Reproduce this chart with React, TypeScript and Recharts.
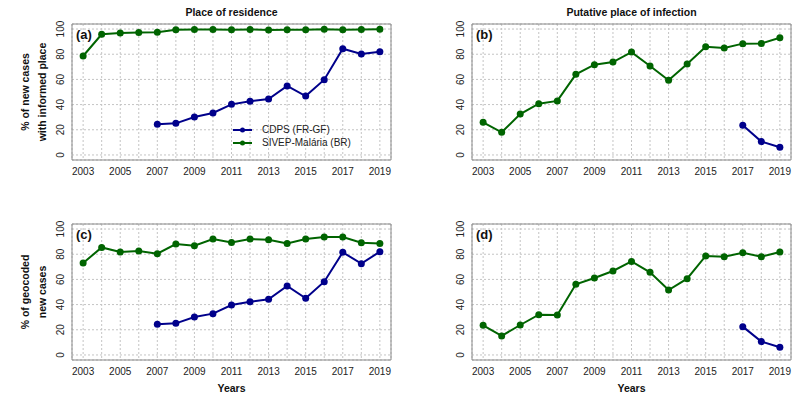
import { LineChart, Line, XAxis, YAxis, CartesianGrid, ReferenceArea, Legend } from 'recharts';

const YEARS = [2003, 2004, 2005, 2006, 2007, 2008, 2009, 2010, 2011, 2012, 2013, 2014, 2015, 2016, 2017, 2018, 2019];
const Y_TICKS = [0, 20, 40, 60, 80, 100];

// (a) place of residence informed
const RESIDENCE_BR = [78.6, 95.8, 96.8, 97.3, 97.4, 99.5, 99.6, 99.6, 99.5, 99.7, 99.3, 99.4, 99.5, 99.8, 99.4, 99.7, 99.8];
const RESIDENCE_GF = [null, null, null, null, 24.3, 25.1, 30.2, 33.3, 40.2, 42.6, 44.4, 54.8, 46.8, 59.8, 84.4, 80.2, 82];

// (b) putative place of infection informed
const INFECTION_BR = [25.9, 18, 32.5, 40.7, 42.9, 64, 71.7, 73.8, 81.7, 70.6, 59.3, 72.2, 86, 84.9, 88.4, 88.6, 93.1];
const INFECTION_GF = [null, null, null, null, null, null, null, null, null, null, null, null, null, null, 23.5, 10.6, 6.1];

// (c) geocoded place of residence
const GEO_RES_BR = [73, 85.4, 81.7, 82.5, 80.4, 88.1, 86.8, 92.1, 89.4, 92.1, 91.5, 88.6, 92.1, 93.7, 93.7, 89.2, 88.6];
const GEO_RES_GF = [null, null, null, null, 24.3, 25.1, 30.2, 32.8, 39.7, 42.3, 44.2, 54.8, 45, 58.2, 81.5, 72.5, 82];

// (d) geocoded place of infection
const GEO_INF_BR = [23.5, 15.1, 23.8, 32, 31.7, 56.1, 61.1, 66.7, 74.3, 65.6, 51.6, 60.6, 78.6, 78, 81.2, 78, 81.7];
const GEO_INF_GF = [null, null, null, null, null, null, null, null, null, null, null, null, null, null, 22.5, 10.6, 6.1];

const BLUE = '#00008b';
const GREEN = '#006400';
const FONT = '"Liberation Sans", Arial, Helvetica, sans-serif';
const PLOT_LEFT = 72;
const PLOT_RIGHT = 391;
const X_MIN = 2002.4;
const X_MAX = 2019.6;

const toRows = (br: (number | null)[], gf: (number | null)[]) =>
  YEARS.map((year, i) => ({ year, br: br[i], gf: gf[i] }));

const XTick = ({ x, y, payload }: any) =>
  payload.value % 2 === 1 ? (
    <text x={x} y={y} dy={15} textAnchor="middle" fontSize={10} fill="#222" fontFamily={FONT}>
      {payload.value}
    </text>
  ) : (
    <g />
  );

const YTick = ({ x, y, payload }: any) => (
  <text
    x={x - 8}
    y={y}
    transform={`rotate(-90, ${x - 8}, ${y})`}
    textAnchor="middle"
    fontSize={10}
    fill="#222"
    fontFamily={FONT}
  >
    {payload.value}
  </text>
);

const LegendBox = () => (
  <div style={{ fontFamily: FONT, fontSize: 10, color: '#222', lineHeight: '13px' }}>
    {[
      { name: 'CDPS (FR-GF)', color: BLUE },
      { name: 'SIVEP-Malária (BR)', color: GREEN },
    ].map((item) => (
      <div key={item.name} style={{ display: 'flex', alignItems: 'center', height: 13 }}>
        <svg width={22} height={10}>
          <line x1={2} y1={5} x2={21} y2={5} stroke={item.color} strokeWidth={2} />
          <circle cx={11.5} cy={5} r={2.5} fill={item.color} />
        </svg>
        <span style={{ marginLeft: 9 }}>{item.name}</span>
      </div>
    ))}
  </div>
);

type PanelProps = {
  tag: string;
  br: (number | null)[];
  gf: (number | null)[];
  title?: string;
  yTitle?: string[];
  showYears?: boolean;
  showLegend?: boolean;
};

function Panel({ tag, br, gf, title, yTitle, showYears, showLegend }: PanelProps) {
  const rows = toRows(br, gf);
  const midX = (PLOT_LEFT + PLOT_RIGHT) / 2;
  return (
    <LineChart
      width={400}
      height={200}
      data={rows}
      margin={{ top: 24, right: 400 - PLOT_RIGHT, bottom: 10, left: 0 }}
      style={{ fontFamily: FONT }}
    >
      <CartesianGrid stroke="#c4c4c4" strokeDasharray="2 2" />
      <XAxis
        dataKey="year"
        type="number"
        domain={[X_MIN, X_MAX]}
        ticks={YEARS}
        interval={0}
        tick={<XTick />}
        tickLine={false}
        axisLine={false}
        tickSize={0}
        tickMargin={0}
        height={30}
        allowDataOverflow
      />
      <YAxis
        type="number"
        domain={[-4, 104]}
        ticks={Y_TICKS}
        interval={0}
        tick={<YTick />}
        tickLine={false}
        axisLine={false}
        tickSize={0}
        tickMargin={0}
        width={PLOT_LEFT}
        allowDataOverflow
      />
      <ReferenceArea x1={X_MIN} x2={X_MAX} y1={-4} y2={104} fill="none" stroke="#8a8a8a" strokeWidth={1} />
      <Line dataKey="br" stroke={GREEN} strokeWidth={2} dot={{ r: 3.5, fill: GREEN, stroke: GREEN, strokeWidth: 0 }} isAnimationActive={false} />
      <Line dataKey="gf" stroke={BLUE} strokeWidth={2} dot={{ r: 3.5, fill: BLUE, stroke: BLUE, strokeWidth: 0 }} isAnimationActive={false} />
      {showLegend && (
        <Legend
          layout="horizontal"
          verticalAlign="middle"
          align="center"
          content={<LegendBox />}
          wrapperStyle={{ position: 'absolute', left: 231, top: 123, width: 'auto', height: 'auto' }}
        />
      )}
      {title && (
        <text x={midX} y={16} textAnchor="middle" fontSize={10.5} fontWeight="bold" fill="#111" fontFamily={FONT}>
          {title}
        </text>
      )}
      <text x={76} y={39} fontSize={13} fontWeight="bold" fill="#111" fontFamily={FONT}>
        {tag}
      </text>
      {yTitle &&
        yTitle.map((line, i) => (
          <text
            key={line}
            x={29 + i * 17}
            y={92}
            transform={`rotate(-90, ${29 + i * 17}, 92)`}
            textAnchor="middle"
            fontSize={10.5}
            fontWeight="bold"
            fill="#111"
            fontFamily={FONT}
          >
            {line}
          </text>
        ))}
      {showYears && (
        <text x={midX} y={192} textAnchor="middle" fontSize={10.5} fontWeight="bold" fill="#111" fontFamily={FONT}>
          Years
        </text>
      )}
    </LineChart>
  );
}

export default function App() {
  return (
    <div
      style={{
        position: 'absolute',
        left: 0,
        top: 0,
        width: 800,
        height: 400,
        background: '#fff',
        display: 'grid',
        gridTemplateColumns: '400px 400px',
        gridTemplateRows: '200px 200px',
      }}
    >
      <Panel
        tag="(a)"
        br={RESIDENCE_BR}
        gf={RESIDENCE_GF}
        title="Place of residence"
        yTitle={['% of new cases', 'with informed place']}
        showLegend
      />
      <Panel tag="(b)" br={INFECTION_BR} gf={INFECTION_GF} title="Putative place of infection" />
      <Panel tag="(c)" br={GEO_RES_BR} gf={GEO_RES_GF} yTitle={['% of geocoded', 'new cases']} showYears />
      <Panel tag="(d)" br={GEO_INF_BR} gf={GEO_INF_GF} showYears />
    </div>
  );
}
